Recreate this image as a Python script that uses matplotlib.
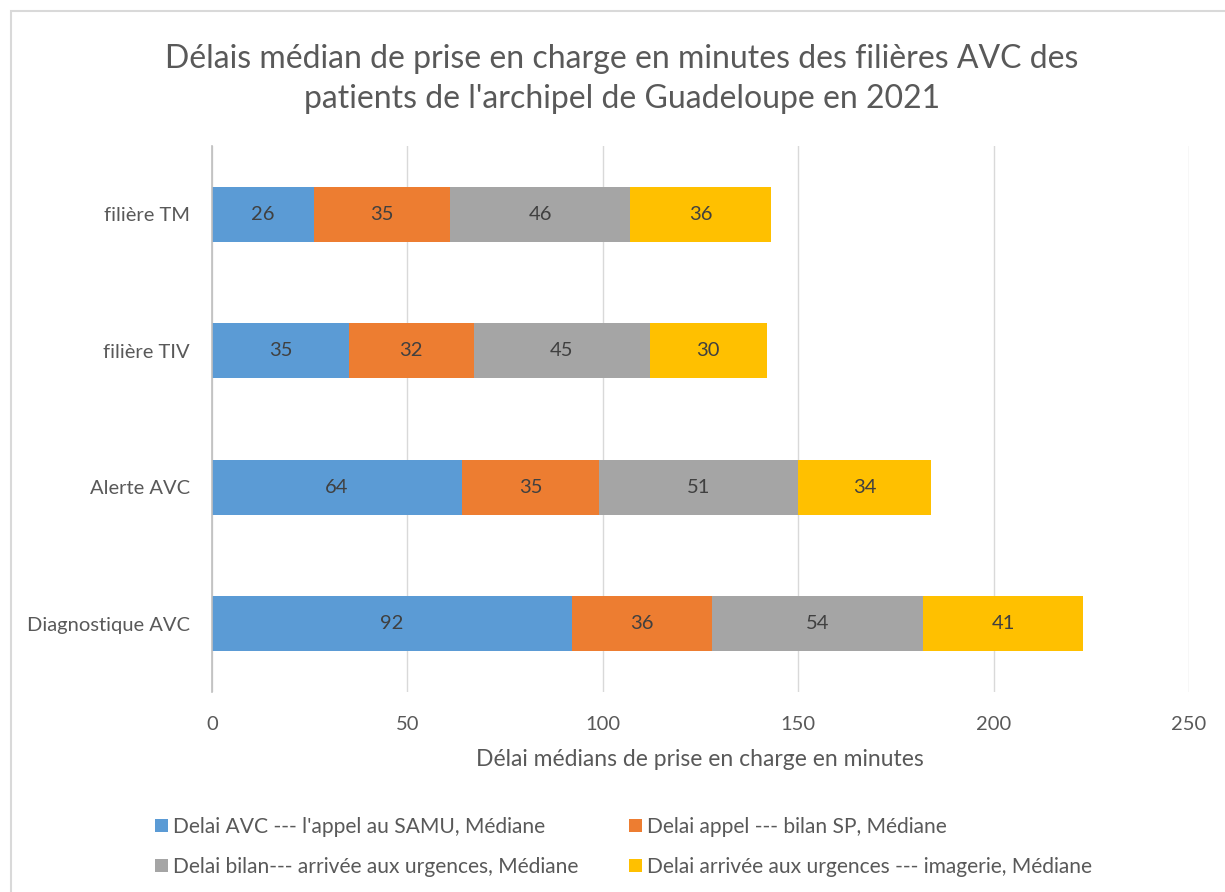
import matplotlib
matplotlib.use("Agg")
import matplotlib.pyplot as plt
from matplotlib.patches import Rectangle, Patch

plt.rcParams['font.family'] = ['Lato', 'DejaVu Sans']

categories = ["Diagnostique AVC", "Alerte AVC", "filière TIV", "filière TM"]
series_names = [
    "Delai AVC --- l'appel au SAMU, Médiane",
    "Delai appel --- bilan SP, Médiane",
    "Delai bilan--- arrivée aux urgences, Médiane",
    "Delai arrivée aux urgences --- imagerie, Médiane",
]
series_values = [
    [92, 64, 35, 26],
    [36, 35, 32, 35],
    [54, 51, 45, 46],
    [41, 34, 30, 36],
]
colors = ["#5B9BD5", "#ED7D31", "#A5A5A5", "#FFC000"]
xticks = [0, 50, 100, 150, 200, 250]

W, H = 1225, 892
fig = plt.figure(figsize=(W / 100, H / 100), dpi=100)
fig.patches.append(Rectangle((11 / W, -0.1), 1.2, (H - 11) / H + 0.1,
                             transform=fig.transFigure, fill=False,
                             edgecolor="#d9d9d9", linewidth=1.5))

ax = fig.add_axes([212 / W, 1 - 692 / H, (1189 - 212) / W, (692 - 146) / H])
y = list(range(len(categories)))
left = [0] * len(categories)
for name, vals, c in zip(series_names, series_values, colors):
    ax.barh(y, vals, left=left, height=0.4, color=c, label=name, zorder=3)
    for yi, l, v in zip(y, left, vals):
        ax.text(l + v / 2, yi, str(v), ha="center", va="center",
                fontsize=14.5, color="#404040", zorder=4)
    left = [l + v for l, v in zip(left, vals)]

ax.set_xlim(0, 250)
ax.set_ylim(-0.5, 3.5)
ax.set_xticks(xticks)
ax.set_yticks(y)
ax.set_yticklabels(categories)
ax.tick_params(axis="both", length=0, labelsize=14.5, labelcolor="#595959")
ax.tick_params(axis="x", pad=17)
ax.tick_params(axis="y", pad=16)
ax.grid(axis="x", color="#d9d9d9", linewidth=1, zorder=0)
for s in ["top", "right", "bottom"]:
    ax.spines[s].set_visible(False)
ax.spines["left"].set_color("#bfbfbf")
ax.spines["left"].set_linewidth(1.2)
ax.spines["left"].set_zorder(5)

fig.text(700 / W, 1 - 759 / H, "Délai médians de prise en charge en minutes",
         ha="center", va="center", fontsize=16.5, color="#595959")
fig.text(622 / W, 1 - 79 / H,
         "Délais médian de prise en charge en minutes des filières AVC des\npatients de l'archipel de Guadeloupe en 2021",
         ha="center", va="center", fontsize=23, color="#595959", linespacing=1.45)

order = [0, 2, 1, 3]
handles = [Patch(facecolor=colors[i], label=series_names[i]) for i in order]
fig.legend(handles=handles, loc="center left", ncol=2,
           bbox_to_anchor=(155 / W, 1 - 847 / H), frameon=False,
           fontsize=15.1, labelcolor="#595959", handlelength=0.62,
           handleheight=0.62, handletextpad=0.25, columnspacing=2.4,
           labelspacing=0.95, borderpad=0, borderaxespad=0)

fig.savefig("out.png", dpi=100, facecolor="white")
